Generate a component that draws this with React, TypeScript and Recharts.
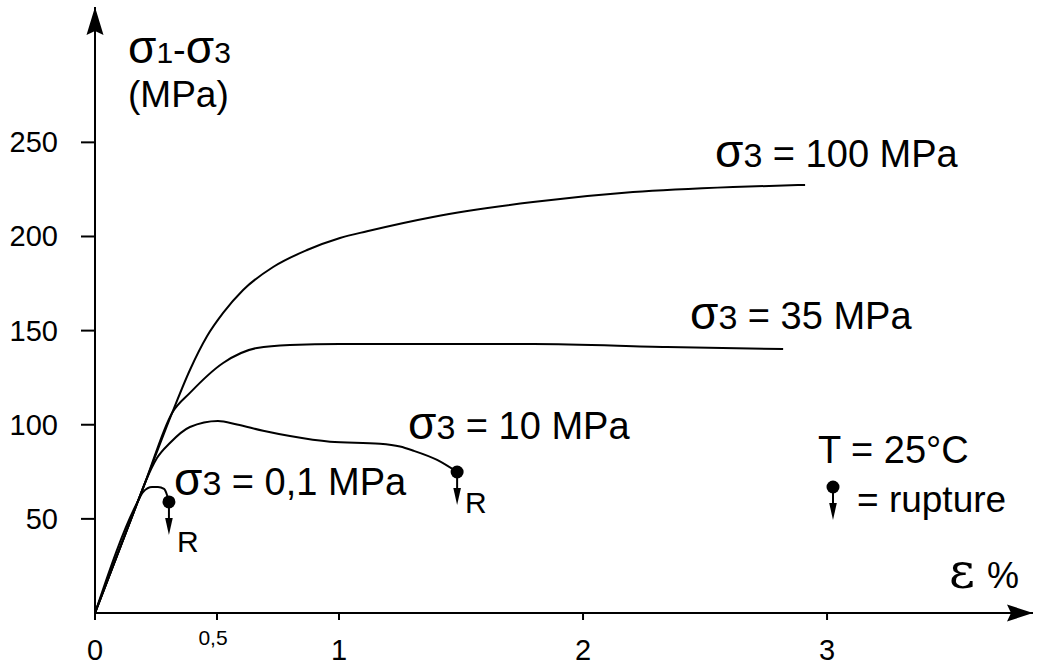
import React from "react";
import { LineChart, Line, XAxis, YAxis } from "recharts";

const W = 1049;
const H = 665;
const INK = "#000";
const FONT = "'Liberation Sans', Arial, sans-serif";

// strain ε (%) and deviatoric stress σ1-σ3 (MPa)
const EPS_01 = [0, 0.176, 0.197, 0.234, 0.258, 0.283, 0.295, 0.303];
const SIG_01 = [0, 59.4, 64.3, 66.9, 66.9, 65.9, 62.7, 59.0];

const EPS_10 = [0, 0.176, 0.205, 0.254, 0.307, 0.389, 0.504, 0.582, 0.689, 0.799, 0.963, 1.168, 1.25, 1.303, 1.402, 1.484];
const SIG_10 = [0, 59.4, 69.1, 82.3, 90.3, 98.8, 102.0, 100.1, 96.8, 94.0, 91.0, 89.9, 88.4, 86.3, 81.3, 74.9];

const EPS_35 = [0, 0.176, 0.205, 0.316, 0.389, 0.525, 0.664, 0.799, 1.004, 1.795, 2.344, 2.82];
const SIG_35 = [0, 59.4, 69.1, 106.3, 116.9, 132.8, 140.8, 142.4, 142.9, 142.9, 141.3, 140.2];

const EPS_100 = [0, 0.176, 0.205, 0.316, 0.389, 0.459, 0.525, 0.607, 0.73, 0.869, 1.004, 1.115, 1.385, 1.795, 2.205, 2.615, 2.91];
const SIG_100 = [0, 59.4, 69.1, 106.3, 129.1, 147.0, 159.4, 171.6, 183.8, 192.8, 199.2, 202.8, 210.4, 218.3, 223.6, 226.3, 227.4];

const X_TICKS = [0, 0.5, 1, 2, 3];
const X_LABELS = ["0", "0,5", "1", "2", "3"];
const Y_TICKS = [50, 100, 150, 200, 250];
const X_MAX = 3.844;
const Y_MAX = 321.9;

const rows = (xs: number[], ys: number[]) => xs.map((x, i) => ({ x, y: ys[i] }));

// rupture marker: dot + downward arrow + "R"
function Rupture({ cx, cy, rDy }: { cx: number; cy: number; rDy: number }) {
  return (
    <g>
      <circle cx={cx} cy={cy} r={6.5} fill={INK} />
      <line x1={cx} y1={cy} x2={cx} y2={cy + 18} stroke={INK} strokeWidth={2} />
      <polygon points={`${cx - 3.8},${cy + 16} ${cx + 3.8},${cy + 16} ${cx},${cy + 33}`} fill={INK} />
      <text x={cx + 8} y={cy + rDy} fontSize={30} fontFamily={FONT} fill={INK}>R</text>
    </g>
  );
}

function ruptureDot(len: number, rDy: number) {
  return (p: any) => {
    if (p.index !== len - 1) return <g key={`d-${p.index}`} />;
    return (
      <g key={`d-${p.index}`}>
        <Rupture cx={p.cx} cy={p.cy} rDy={rDy} />
      </g>
    );
  };
}

function XTick({ x, y, payload }: any) {
  const i = X_TICKS.indexOf(payload.value);
  const small = payload.value === 0.5;
  return (
    <text x={small ? x - 4 : x} y={small ? y + 23 : y + 38} textAnchor="middle"
      fontSize={small ? 21 : 29} fontFamily={FONT} fill={INK}>
      {X_LABELS[i]}
    </text>
  );
}

function YTick({ x, y, payload }: any) {
  return (
    <text x={x - 21} y={y + 10} textAnchor="end" fontSize={29} fontFamily={FONT} fill={INK}>
      {payload.value}
    </text>
  );
}

function SigmaLabel({ x, y, rest }: { x: number; y: number; rest: string }) {
  return (
    <text x={x} y={y} fontFamily={FONT} fill={INK}>
      <tspan fontSize={46}>σ</tspan>
      <tspan fontSize={34}>3</tspan>
      <tspan fontSize={38}>{rest}</tspan>
    </text>
  );
}

export default function App() {
  return (
    <div style={{ position: "absolute", left: 0, top: 0, width: W, height: H, background: "#fff" }}>
      <LineChart width={W} height={H} margin={{ top: 7, right: 16, bottom: 12, left: 55 }}>
        <XAxis type="number" dataKey="x" domain={[0, X_MAX]} ticks={X_TICKS} height={40}
          allowDataOverflow axisLine={{ stroke: INK, strokeWidth: 2 }}
          tickLine={{ stroke: INK, strokeWidth: 2 }} tickSize={7} tick={<XTick />} interval={0} />
        <YAxis type="number" domain={[0, Y_MAX]} ticks={Y_TICKS} width={40}
          allowDataOverflow axisLine={{ stroke: INK, strokeWidth: 2 }}
          tickLine={{ stroke: INK, strokeWidth: 2 }} tickSize={14} tick={<YTick />} interval={0} />
        <Line data={rows(EPS_100, SIG_100)} dataKey="y" type="monotone" stroke={INK}
          strokeWidth={2} dot={false} isAnimationActive={false} />
        <Line data={rows(EPS_35, SIG_35)} dataKey="y" type="monotone" stroke={INK}
          strokeWidth={2} dot={false} isAnimationActive={false} />
        <Line data={rows(EPS_10, SIG_10)} dataKey="y" type="monotone" stroke={INK}
          strokeWidth={2} dot={ruptureDot(EPS_10.length, 41)} isAnimationActive={false} />
        <Line data={rows(EPS_01, SIG_01)} dataKey="y" type="monotone" stroke={INK}
          strokeWidth={2} dot={ruptureDot(EPS_01.length, 50)} isAnimationActive={false} />
      </LineChart>

      {/* annotations, arrowheads and legend */}
      <svg width={W} height={H} style={{ position: "absolute", left: 0, top: 0, pointerEvents: "none" }}>
        <polygon points="95,7 103.5,35 95,31 86.5,35" fill={INK} />
        <polygon points="1033,613 1007,604.5 1011,613 1007,621.5" fill={INK} />

        <text x={128} y={63} fontFamily={FONT} fill={INK}>
          <tspan fontSize={46}>σ</tspan>
          <tspan fontSize={30}>1</tspan>
          <tspan fontSize={38}>-</tspan>
          <tspan fontSize={46}>σ</tspan>
          <tspan fontSize={30}>3</tspan>
        </text>
        <text x={128} y={107} fontSize={37} fontFamily={FONT} fill={INK}>(MPa)</text>

        <SigmaLabel x={715} y={167} rest=" = 100 MPa" />
        <SigmaLabel x={690} y={329} rest=" = 35 MPa" />
        <SigmaLabel x={408} y={439} rest=" = 10 MPa" />
        <SigmaLabel x={174} y={495} rest=" = 0,1 MPa" />

        <text x={818} y={463} fontSize={38} fontFamily={FONT} fill={INK}>T = 25°C</text>
        <circle cx={833} cy={487} r={6.5} fill={INK} />
        <line x1={833} y1={487} x2={833} y2={505} stroke={INK} strokeWidth={2} />
        <polygon points="829.2,503 836.8,503 833,520" fill={INK} />
        <text x={857} y={512} fontSize={37} fontFamily={FONT} fill={INK}>= rupture</text>

        <text x={949} y={588} fontSize={50} fontFamily="'DejaVu Serif', serif" fill={INK}>ε</text>
        <text x={987} y={588} fontSize={36} fontFamily={FONT} fill={INK}>%</text>
      </svg>
    </div>
  );
}
